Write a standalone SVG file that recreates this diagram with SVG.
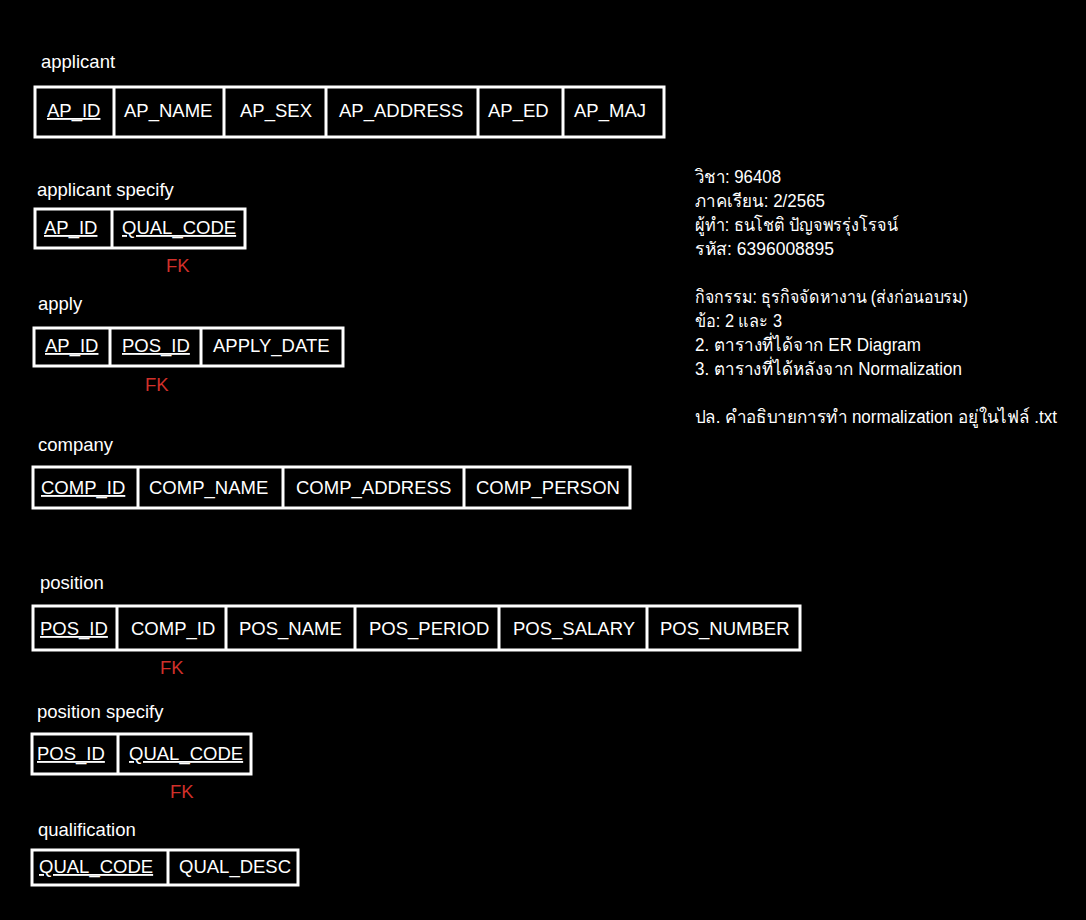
<svg xmlns="http://www.w3.org/2000/svg" width="1086" height="920" viewBox="0 0 1086 920">
  <style>
    text { font-family: "Liberation Sans", Arial, "Noto Sans", sans-serif; fill: #ffffff; }
    .title { font-size: 18.5px; }
    .cell { font-size: 18.5px; }
    .pk { text-decoration: underline; }
    .fk { font-size: 18.5px; fill: #d0302a; }
    .note { font-size: 18px; }
    .box { fill: #000000; stroke: #ffffff; stroke-width: 3; }
    .div { stroke: #ffffff; stroke-width: 3; }
  </style>
  <rect x="0" y="0" width="1086" height="920" fill="#000000"/>

  <!-- applicant -->
  <g id="applicant">
    <text class="title" x="41" y="68">applicant</text>
    <rect class="box" x="35" y="87" width="629" height="50"/>
    <line class="div" x1="114" y1="87" x2="114" y2="137"/>
    <line class="div" x1="224" y1="87" x2="224" y2="137"/>
    <line class="div" x1="326" y1="87" x2="326" y2="137"/>
    <line class="div" x1="478" y1="87" x2="478" y2="137"/>
    <line class="div" x1="563" y1="87" x2="563" y2="137"/>
    <text class="cell pk" x="47" y="117">AP_ID</text>
    <text class="cell" x="124" y="117">AP_NAME</text>
    <text class="cell" x="240" y="117">AP_SEX</text>
    <text class="cell" x="339" y="117">AP_ADDRESS</text>
    <text class="cell" x="488" y="117">AP_ED</text>
    <text class="cell" x="574" y="117">AP_MAJ</text>
  </g>

  <!-- applicant specify -->
  <g id="applicant-specify">
    <text class="title" x="37" y="196">applicant specify</text>
    <rect class="box" x="35" y="209" width="210" height="39"/>
    <line class="div" x1="112" y1="209" x2="112" y2="248"/>
    <text class="cell pk" x="44" y="234">AP_ID</text>
    <text class="cell pk" x="122" y="234">QUAL_CODE</text>
    <text class="fk" x="166" y="272">FK</text>
  </g>

  <!-- apply -->
  <g id="apply">
    <text class="title" x="38" y="310">apply</text>
    <rect class="box" x="34" y="328" width="309" height="38"/>
    <line class="div" x1="110" y1="328" x2="110" y2="366"/>
    <line class="div" x1="201" y1="328" x2="201" y2="366"/>
    <text class="cell pk" x="45" y="352">AP_ID</text>
    <text class="cell pk" x="122" y="352">POS_ID</text>
    <text class="cell" x="213" y="352">APPLY_DATE</text>
    <text class="fk" x="145" y="391">FK</text>
  </g>

  <!-- company -->
  <g id="company">
    <text class="title" x="38" y="451">company</text>
    <rect class="box" x="33" y="467" width="597" height="41"/>
    <line class="div" x1="138" y1="467" x2="138" y2="508"/>
    <line class="div" x1="283" y1="467" x2="283" y2="508"/>
    <line class="div" x1="464" y1="467" x2="464" y2="508"/>
    <text class="cell pk" x="41" y="494">COMP_ID</text>
    <text class="cell" x="149" y="494">COMP_NAME</text>
    <text class="cell" x="296" y="494">COMP_ADDRESS</text>
    <text class="cell" x="476" y="494">COMP_PERSON</text>
  </g>

  <!-- position -->
  <g id="position">
    <text class="title" x="40" y="589">position</text>
    <rect class="box" x="33" y="606" width="767" height="44"/>
    <line class="div" x1="117" y1="606" x2="117" y2="650"/>
    <line class="div" x1="226" y1="606" x2="226" y2="650"/>
    <line class="div" x1="355" y1="606" x2="355" y2="650"/>
    <line class="div" x1="499" y1="606" x2="499" y2="650"/>
    <line class="div" x1="647" y1="606" x2="647" y2="650"/>
    <text class="cell pk" x="40" y="635">POS_ID</text>
    <text class="cell" x="131" y="635">COMP_ID</text>
    <text class="cell" x="239" y="635">POS_NAME</text>
    <text class="cell" x="369" y="635">POS_PERIOD</text>
    <text class="cell" x="513" y="635">POS_SALARY</text>
    <text class="cell" x="660" y="635">POS_NUMBER</text>
    <text class="fk" x="160" y="674">FK</text>
  </g>

  <!-- position specify -->
  <g id="position-specify">
    <text class="title" x="37" y="718">position specify</text>
    <rect class="box" x="32" y="734" width="219" height="40"/>
    <line class="div" x1="118" y1="734" x2="118" y2="774"/>
    <text class="cell pk" x="37" y="760">POS_ID</text>
    <text class="cell pk" x="129" y="760">QUAL_CODE</text>
    <text class="fk" x="170" y="798">FK</text>
  </g>

  <!-- qualification -->
  <g id="qualification">
    <text class="title" x="38" y="836">qualification</text>
    <rect class="box" x="32" y="850" width="266" height="35"/>
    <line class="div" x1="168" y1="850" x2="168" y2="885"/>
    <text class="cell pk" x="39" y="873">QUAL_CODE</text>
    <text class="cell" x="179" y="873">QUAL_DESC</text>
  </g>

  <!-- course notes -->
  <g id="notes">
    <text class="note" x="695" y="183" textLength="86" lengthAdjust="spacingAndGlyphs">วิชา: 96408</text>
    <text class="note" x="695" y="207" textLength="130" lengthAdjust="spacingAndGlyphs">ภาคเรียน: 2/2565</text>
    <text class="note" x="695" y="231" textLength="203" lengthAdjust="spacingAndGlyphs">ผู้ทำ: ธนโชติ ปัญจพรรุ่งโรจน์</text>
    <text class="note" x="695" y="255" textLength="139" lengthAdjust="spacingAndGlyphs">รหัส: 6396008895</text>
    <text class="note" x="695" y="303" textLength="273" lengthAdjust="spacingAndGlyphs">กิจกรรม: ธุรกิจจัดหางาน (ส่งก่อนอบรม)</text>
    <text class="note" x="695" y="327" textLength="87" lengthAdjust="spacingAndGlyphs">ข้อ: 2 และ 3</text>
    <text class="note" x="695" y="351" textLength="226" lengthAdjust="spacingAndGlyphs">2. ตารางที่ได้จาก ER Diagram</text>
    <text class="note" x="695" y="375" textLength="267" lengthAdjust="spacingAndGlyphs">3. ตารางที่ได้หลังจาก Normalization</text>
    <text class="note" x="695" y="423" textLength="362" lengthAdjust="spacingAndGlyphs">ปล. คำอธิบายการทำ normalization อยู่ในไฟล์ .txt</text>
  </g>
</svg>
